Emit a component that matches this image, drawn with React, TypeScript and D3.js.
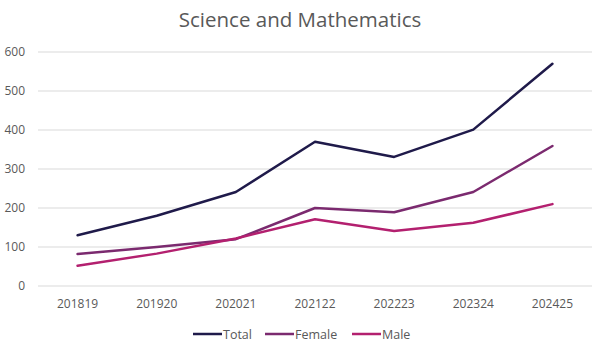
import React from "react";
import * as d3 from "d3";

const categories = ["201819", "201920", "202021", "202122", "202223", "202324", "202425"];
const totalValues = [130, 180, 241, 370, 331, 401, 570];
const femaleValues = [82, 100, 120, 200, 189, 241, 359];
const maleValues = [52, 83, 122, 171, 141, 162, 210];
const yTicks = [0, 100, 200, 300, 400, 500, 600];
const seriesNames = ["Total", "Female", "Male"];
const seriesColors = ["#1f1a4a", "#7b2a6f", "#b3206f"];

const W = 602;
const H = 347;
const FONT = "'Open Sans', 'Noto Sans', sans-serif";

export default function App() {
  const x = d3.scaleBand<string>().domain(categories).range([38, 592]);
  const y = d3.scaleLinear().domain([0, 600]).range([286, 52]);
  const line = d3
    .line<number>()
    .x((_, i) => (x(categories[i]) as number) + x.bandwidth() / 2)
    .y((d) => y(d));
  const series = [totalValues, femaleValues, maleValues];
  const legendX = [193, 265, 352];

  return (
    <svg width={W} height={H} style={{ position: "absolute", left: 0, top: 0, background: "#fff" }} fontFamily={FONT}>
      <rect width={W} height={H} fill="#fff" />
      <text x={300} y={27} textAnchor="middle" fontSize={20.5} fill="#595959">
        Science and Mathematics
      </text>
      {yTicks.map((t) => (
        <g key={t}>
          <line x1={38} x2={592} y1={y(t)} y2={y(t)} stroke="#d9d9d9" strokeWidth={1} />
          <text x={25} y={y(t) + 4} textAnchor="end" fontSize={12} fill="#595959">
            {t}
          </text>
        </g>
      ))}
      {categories.map((c) => (
        <text key={c} x={(x(c) as number) + x.bandwidth() / 2} y={308} textAnchor="middle" fontSize={12} fill="#595959">
          {c}
        </text>
      ))}
      {series.map((s, i) => (
        <path key={i} d={line(s) as string} fill="none" stroke={seriesColors[i]} strokeWidth={2.5} strokeLinejoin="round" strokeLinecap="round" />
      ))}
      {seriesNames.map((n, i) => (
        <g key={n}>
          <line x1={legendX[i]} x2={legendX[i] + 29} y1={334} y2={334} stroke={seriesColors[i]} strokeWidth={2.5} />
          <text x={legendX[i] + 30} y={338.5} fontSize={12.5} fill="#595959">
            {n}
          </text>
        </g>
      ))}
    </svg>
  );
}
